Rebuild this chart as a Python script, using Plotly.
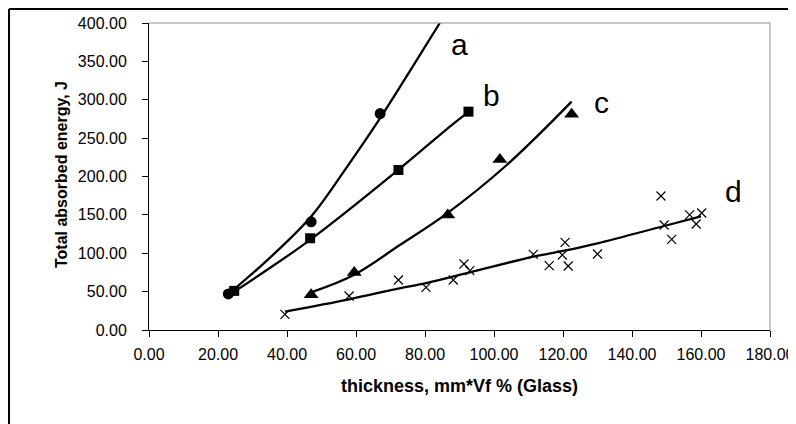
import plotly.graph_objects as go

# ---- data ----
a_x = [23.0, 47.0, 67.0]
a_y = [47.0, 141.0, 282.0]
b_x = [24.7, 46.7, 72.3, 92.6]
b_y = [51.0, 119.5, 208.5, 284.5]
c_x = [47.0, 59.5, 86.6, 101.7, 122.5]
c_y = [46.0, 75.0, 150.0, 222.0, 281.0]
d_x = [39.4, 58.0, 72.3, 80.3, 88.2, 91.3, 93.0, 111.4, 116.0, 119.8, 120.6,
       121.5, 130.0, 148.4, 149.3, 151.5, 156.7, 158.6, 160.2]
d_y = [20.4, 44.3, 65.1, 55.6, 65.1, 86.0, 77.3, 98.6, 83.8, 97.7, 114.2,
       83.4, 99.0, 174.6, 136.8, 118.1, 150.0, 138.1, 152.4]

# trend lines
fit_a_x = [24.4, 35.0, 47.0, 57.0, 67.0, 75.7, 84.3]
fit_a_y = [52.0, 94.0, 148.0, 210.0, 276.0, 338.0, 400.0]
fit_b_x = [25.4, 46.7, 72.5, 87.2, 91.4]
fit_b_y = [52.0, 117.5, 209.5, 265.0, 280.0]
fit_c_x = [47.6, 59.5, 72.8, 85.8, 103.7, 122.5]
fit_c_y = [50.0, 72.0, 111.0, 150.0, 215.0, 297.5]
fit_d_x = [39.4, 58.0, 72.3, 80.3, 93.0, 111.4, 120.0, 130.0, 149.3, 160.0]
fit_d_y = [24.0, 40.0, 54.0, 61.0, 75.0, 95.5, 103.0, 113.0, 135.5, 148.0]

labels = ["a", "b", "c", "d"]
label_x = [90.1, 99.3, 131.2, 169.4]
label_y = [372.0, 305.5, 297.0, 181.0]

x_ticks = [0, 20, 40, 60, 80, 100, 120, 140, 160, 180]
y_ticks = [0, 50, 100, 150, 200, 250, 300, 350, 400]

FONT = "Arial, Liberation Sans, sans-serif"
fig = go.Figure()

line_style = dict(color="black", width=2.3, shape="spline", smoothing=1.0)
for fx, fy in [(fit_a_x, fit_a_y), (fit_b_x, fit_b_y), (fit_c_x, fit_c_y), (fit_d_x, fit_d_y)]:
    fig.add_trace(go.Scatter(x=fx, y=fy, mode="lines", line=line_style,
                             showlegend=False, hoverinfo="skip"))

fig.add_trace(go.Scatter(x=a_x, y=a_y, mode="markers", name="a",
                         marker=dict(symbol="circle", size=11, color="black")))
fig.add_trace(go.Scatter(x=b_x, y=b_y, mode="markers", name="b",
                         marker=dict(symbol="square", size=10, color="black")))
fig.add_trace(go.Scatter(x=c_x, y=c_y, mode="markers", name="c",
                         marker=dict(symbol="triangle-up", size=13, color="black")))
fig.add_trace(go.Scatter(x=d_x, y=d_y, mode="markers", name="d",
                         marker=dict(symbol="x-thin", size=9,
                                     line=dict(color="black", width=1.2))))

for t, lx, ly in zip(labels, label_x, label_y):
    fig.add_annotation(x=lx, y=ly, text=t, showarrow=False,
                       xanchor="center", yanchor="middle",
                       font=dict(family=FONT, size=30, color="black"))

# axis titles
fig.add_annotation(xref="paper", yref="paper", x=0.5, y=-0.182,
                   text="<b>thickness, mm*Vf % (Glass)</b>", showarrow=False,
                   xanchor="center", yanchor="middle",
                   font=dict(family=FONT, size=18, color="black"))
fig.add_annotation(xref="paper", yref="paper", x=-0.140, y=0.505,
                   text="<b>Total absorbed energy, J</b>", showarrow=False,
                   textangle=-90, xanchor="center", yanchor="middle",
                   font=dict(family=FONT, size=16, color="black"))

# plot-area border (top/right grey) and outer chart frame
fig.add_shape(type="line", xref="paper", yref="paper", x0=0, x1=1, y0=1, y1=1,
              line=dict(color="#8c8c8c", width=1))
fig.add_shape(type="line", xref="paper", yref="paper", x0=1, x1=1, y0=0, y1=1,
              line=dict(color="#8c8c8c", width=1))
fig.add_shape(type="line", xref="paper", yref="paper", x0=-0.2254, x1=1.1,
              y0=1.0456, y1=1.0456, line=dict(color="black", width=2))
fig.add_shape(type="line", xref="paper", yref="paper", x0=-0.2254, x1=-0.2254,
              y0=-0.4, y1=1.0456, line=dict(color="black", width=2))

# the page adds an 8 px body margin, so the figure is laid out 8 px up/left
fig.update_layout(
    width=796, height=424,
    margin=dict(l=141, r=34, t=15, b=102, autoexpand=False),
    paper_bgcolor="white", plot_bgcolor="white",
    showlegend=False,
    font=dict(family=FONT, size=16, color="black"),
    xaxis=dict(range=[0, 180], tickvals=x_ticks, tickformat=".2f",
               showgrid=False, zeroline=False, showline=True,
               linecolor="black", linewidth=1, ticks="outside",
               ticklen=6, tickcolor="black", tickfont=dict(size=16),
               ticklabelstandoff=4, automargin=False),
    yaxis=dict(range=[0, 400], tickvals=y_ticks, tickformat=".2f",
               showgrid=False, zeroline=False, showline=True,
               linecolor="black", linewidth=1, ticks="outside",
               ticklen=6, tickcolor="black", tickfont=dict(size=16),
               ticklabelstandoff=12, automargin=False),
)

fig.write_html("out.html")
